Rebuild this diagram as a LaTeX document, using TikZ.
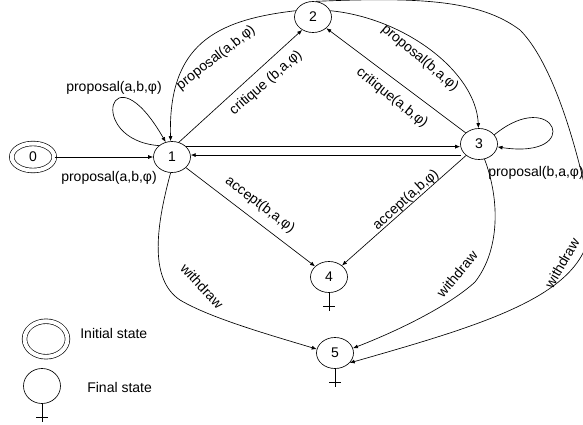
\documentclass[tikz,border=0pt]{standalone}
\usepackage{fontspec}
\setmainfont{Liberation Sans}
\usetikzlibrary{shapes.geometric,arrows.meta}

\tikzset{>={Latex[length=5pt,width=4pt]}}

\begin{document}
\begin{tikzpicture}[x=1pt,y=-1pt,line width=0.65pt,font=\fontsize{14}{16}\selectfont]
        \useasboundingbox (0,0) rectangle (583,425);
        % states
        \begin{scope}[every node/.style={ellipse,draw,minimum width=37pt,minimum height=31pt,inner sep=0pt}]
          \node[double,double distance=4pt,minimum width=42.5pt,minimum height=27pt] (q0) at (33,157) {0};
          \node (q1) at (172,157) {1};
          \node (q2) at (313,17) {2};
          \node (q3) at (479,144) {3};
          \node (q4) at (329,277) {4};
          \node (q5) at (335,353) {5};
          \node[double,double distance=4pt,minimum width=43pt,minimum height=35.5pt] (init) at (46,339) {};
          \node[minimum height=35pt] (fin) at (42,386) {};
        \end{scope}
        % final marks
        \foreach \n in {q4,q5,fin}
          \draw (\n.south) -- ++(0,18) ++(-6,-5) -- ++(12,0);
        % transitions
        \begin{scope}[every edge/.style={draw=black,->}]
          \path (q0) edge (q1);
          \path (q1.65) edge (q2.230);
          \path (q3.140) edge (q2.320);
          \path (q1.36) edge (q1.36 -| q3.west);
          \path (q3.190 |- q1.6) edge (q1.6);
          \path (q1) edge (q4);
          \path (q3) edge (q4);
        \end{scope}
        \draw[->] (q1.139) .. controls (85,140) and (110,45) .. (q1.113);
        \draw[->] (q2.160) .. controls (215,20) and (168,45) .. (q1.95);
        \draw[->] (q2.20) .. controls (405,18) and (476,72) .. (q3.92);
        \draw[->] (q3.31) .. controls (555,85) and (585,160) .. (q3.-9);
        \draw[->] (q1.265) .. controls (155,230) and (150,280) .. (180,300)
                  .. controls (210,318) and (270,335) .. (q5.168);
        \draw[->] (q3.-70) .. controls (500,200) and (500,250) .. (475,282)
                  .. controls (450,305) and (400,330) .. (q5.15);
        \draw[->] (q2.80) .. controls (420,-3) and (480,0) .. (520,30)
                  .. controls (545,55) and (570,115) .. (590,210)
                  .. controls (600,290) and (500,320) .. (q5.-34);
        % labels
        \begin{scope}[every node/.style={inner sep=1pt}]
          \node (l01) at (109,178) {proposal(a,b,φ)};
          \node (l11) at (114,88) {proposal(a,b,φ)};
          \node[rotate=38] (l21) at (216,58) {proposal(a,b,φ)};
          \node[rotate=41] (l12) at (266,83) {critique (b,a,φ)};
          \node[rotate=-40] (l23) at (420,58) {proposal(b,a,φ)};
          \node[rotate=-38.5] (l32) at (392,98) {critique(a,b,φ)};
          \node (l33) at (536,173) {proposal(b,a,φ)};
          \node[rotate=-37] (l14) at (260,205) {accept(b,a,φ)};
          \node[rotate=42] (l34) at (406,200) {accept(a,b,φ)};
          \node[rotate=-47] (l15) at (202,286) {withdraw};
          \node[rotate=50] (l35) at (457,274) {withdraw};
          \node[rotate=60] (l25) at (562,263) {withdraw};
          \node[anchor=west] (tinit) at (79,333) {Initial state};
          \node[anchor=west] (tfin) at (86,387) {Final state};
        \end{scope}
      \end{tikzpicture}
\end{document}
